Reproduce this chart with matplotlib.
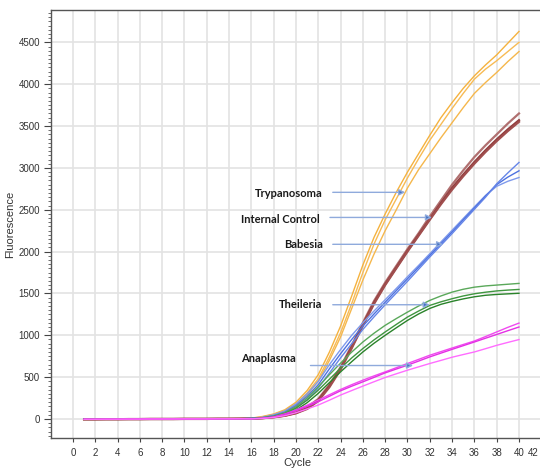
import matplotlib
matplotlib.use("Agg")
import matplotlib.pyplot as plt
import matplotlib.transforms as mtransforms
from matplotlib.ticker import MultipleLocator

# qPCR amplification curves, cycles 1-40
cycles = list(range(1, 41))
baseline = [-3, -3, -2, -2, -1, -1, 0, 0, 0, 1, 1, 1, 2, 2, 3]  # cycles 1-15, shared

# cycles 16-40 for each replicate
trypanosoma = [
    [10, 30, 60, 110, 200, 340, 530, 800, 1110, 1470, 1840, 2170, 2450, 2710,
     2950, 3170, 3390, 3600, 3780, 3950, 4100, 4230, 4350, 4490, 4630],
    [8, 25, 55, 100, 180, 310, 480, 740, 1030, 1380, 1750, 2090, 2380, 2630,
     2880, 3110, 3330, 3520, 3710, 3890, 4060, 4180, 4280, 4390, 4500],
    [6, 20, 50, 90, 160, 290, 450, 700, 980, 1320, 1660, 1970, 2250, 2500,
     2760, 2980, 3170, 3360, 3540, 3720, 3890, 4020, 4140, 4270, 4390],
]
internal_control = [
    [5, 12, 25, 45, 80, 140, 240, 410, 620, 880, 1150, 1410, 1630, 1830,
     2030, 2220, 2420, 2610, 2800, 2970, 3130, 3270, 3400, 3530, 3650],
    [4, 10, 22, 40, 72, 128, 225, 395, 605, 860, 1130, 1390, 1610, 1810,
     2010, 2200, 2390, 2580, 2760, 2920, 3070, 3210, 3340, 3460, 3570],
    [4, 10, 20, 38, 68, 120, 215, 380, 590, 845, 1115, 1375, 1600, 1800,
     2000, 2190, 2380, 2565, 2740, 2900, 3050, 3190, 3320, 3440, 3550],
]
babesia = [
    [8, 20, 50, 95, 180, 300, 450, 650, 830, 1000, 1150, 1290, 1425, 1560,
     1700, 1835, 1975, 2115, 2255, 2395, 2535, 2670, 2780, 2840, 2885],
    [6, 16, 40, 80, 160, 270, 410, 600, 780, 950, 1110, 1255, 1395, 1535,
     1675, 1815, 1955, 2095, 2235, 2380, 2520, 2665, 2800, 2890, 2965],
    [5, 12, 35, 65, 130, 230, 370, 550, 730, 900, 1070, 1220, 1365, 1505,
     1645, 1790, 1935, 2075, 2215, 2360, 2505, 2650, 2810, 2940, 3065],
]
theileria = [
    [5, 15, 35, 75, 146, 250, 385, 530, 667, 800, 920, 1025, 1119, 1200,
     1277, 1350, 1417, 1470, 1516, 1550, 1575, 1590, 1600, 1610, 1620],
    [4, 12, 30, 65, 130, 225, 345, 475, 607, 730, 842, 945, 1040, 1130,
     1218, 1290, 1357, 1400, 1437, 1470, 1496, 1515, 1530, 1540, 1548],
    [3, 10, 25, 55, 107, 195, 306, 435, 563, 685, 801, 905, 1000, 1090,
     1178, 1255, 1321, 1370, 1405, 1435, 1460, 1478, 1488, 1495, 1502],
]
anaplasma = [
    [3, 10, 25, 60, 107, 165, 226, 290, 353, 410, 464, 515, 563, 613,
     663, 712, 762, 805, 848, 890, 932, 985, 1040, 1095, 1146],
    [3, 9, 22, 55, 99, 150, 206, 272, 337, 392, 444, 497, 551, 597,
     643, 692, 742, 787, 832, 876, 920, 965, 1010, 1055, 1099],
    [2, 7, 18, 40, 75, 120, 167, 225, 286, 340, 393, 445, 496, 540,
     583, 623, 663, 700, 738, 770, 801, 840, 880, 915, 949],
]

# callouts: arrow tail/head x, arrow y, text right edge x, text y
labels = ["Trypanosoma", "Internal Control", "Babesia", "Theileria", "Anaplasma"]
arrow_tail = [23.3, 23.05, 23.3, 23.3, 21.3]
arrow_head = [29.8, 32.2, 33.2, 32.0, 30.5]
arrow_y = [2708, 2408, 2087, 1365, 639]
text_x = [22.4, 22.15, 22.4, 22.4, 20.0]
text_y = [2690, 2380, 2080, 1365, 720]

groups = [
    (trypanosoma, ["#F5B23E", "#F7BB55", "#F5B74C"], 1.0),
    (internal_control, ["#B07070", "#913D3D", "#A04E4E"], 1.6),
    (babesia, ["#7F9AEC", "#4E72E0", "#6585E8"], 1.0),
    (theileria, ["#5AA85A", "#3F963F", "#2A832A"], 1.0),
    (anaplasma, ["#F04AF0", "#E52EE5", "#FF6CFF"], 1.0),
]

fig = plt.figure(figsize=(5.4, 4.68), dpi=100)
ax = fig.add_axes([0.0944, 0.0641, 0.9111, 0.9145])

for reps, colors, lw in groups:
    for vals, c in zip(reps, colors):
        ax.plot(cycles, baseline + vals, color=c, lw=lw, zorder=3)

for lab, tx, hx, ay, lx, ly in zip(labels, arrow_tail, arrow_head, arrow_y, text_x, text_y):
    ax.annotate("", xy=(hx, ay), xytext=(tx, ay),
                arrowprops=dict(arrowstyle="-|>", mutation_scale=9, lw=1.0,
                                ec="#8FAADC", fc="#4472C4", shrinkA=0, shrinkB=0),
                zorder=4)
    ax.text(lx, ly, lab, ha="right", va="center", fontsize=8,
            family="Lato", weight="bold", color="#1a1a1a", zorder=5)

ax.set_xlim(-1.97, 42.15)
ax.set_ylim(-227, 4886)
ax.set_xticks(range(0, 44, 2))
ax.set_yticks(range(0, 5000, 500))
ax.yaxis.set_minor_locator(MultipleLocator(50))

ax.grid(True, which="major", color="#E3E3E3", lw=1.2, zorder=0)
ax.set_axisbelow(True)

for side in ["left", "bottom", "top"]:
    ax.spines[side].set_color("#555555")
    ax.spines[side].set_linewidth(1.0)
ax.spines["right"].set_visible(False)

ax.tick_params(axis="both", which="major", labelsize=7, colors="#444444",
               labelcolor="#333333", direction="out")
ax.tick_params(axis="y", which="major", length=5, pad=3)
ax.tick_params(axis="y", which="minor", length=2.5, color="#555555")
ax.tick_params(axis="x", which="major", length=3, pad=4)
for t in ax.get_xticklabels() + ax.get_yticklabels():
    t.set_family("Liberation Sans")

# the last cycle label sits on the figure edge; pull it in a little
last = ax.get_xticklabels()[-1]
last.set_transform(last.get_transform() +
                   mtransforms.ScaledTranslation(-6 / 72, 0, fig.dpi_scale_trans))

ax.set_xlabel("Cycle", fontsize=8, color="#333333", family="Liberation Sans", labelpad=0)
ax.set_ylabel("Fluorescence", fontsize=8, color="#333333", family="Liberation Sans", labelpad=2)

fig.savefig("out.png", dpi=100)
